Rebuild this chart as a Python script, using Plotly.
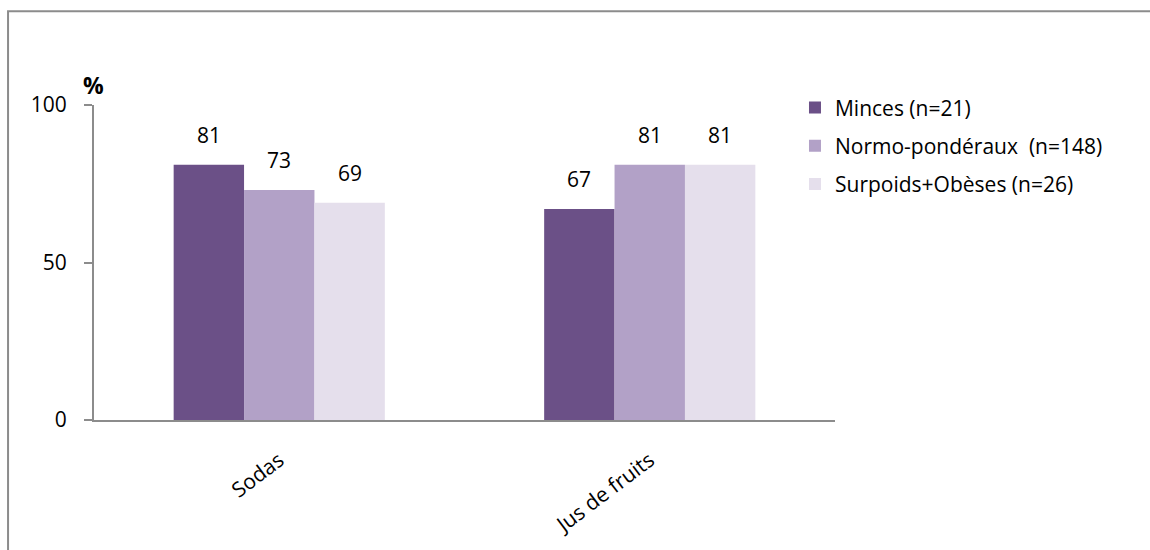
import plotly.graph_objects as go

categories = ["Sodas", "Jus de fruits"]
series_names = ["Minces (n=21)", "Normo-pondéraux  (n=148)", "Surpoids+Obèses (n=26)"]
minces = [81, 67]
normo = [73, 81]
surpoids = [69, 81]
y_ticks = [0, 50, 100]

colors = ["#6B5087", "#B2A1C7", "#E5DFEC"]
font_family = "'Open Sans', sans-serif"
label_size = 21

all_series = [minces, normo, surpoids]

fig = go.Figure()
for i, (name, vals) in enumerate(zip(series_names, all_series)):
    fig.add_trace(go.Bar(
        x=categories, y=vals, name=name,
        marker=dict(color=colors[i], line=dict(width=0)),
        legendgroup=f"g{i}",
    ))

# value labels above each bar, offset horizontally to the bar's slot in the group
bar_px = 70.5
annotations = []
for i, vals in enumerate(all_series):
    for cat, v in zip(categories, vals):
        annotations.append(dict(
            x=cat, y=v, xref="x", yref="y", text=str(v), showarrow=False,
            xshift=(i - 1) * bar_px, yshift=14, yanchor="bottom",
            font=dict(size=label_size, family=font_family, color="#000000"),
        ))

annotations.append(dict(text="<b>%</b>", xref="paper", yref="paper", x=-0.001, y=1.063,
                        xanchor="center", yanchor="middle", showarrow=False,
                        font=dict(size=23, family=font_family)))

fig.update_layout(
    width=1150, height=550,
    margin=dict(l=94, r=315, t=105, b=130),
    paper_bgcolor="white", plot_bgcolor="white",
    barmode="group", bargap=0.43, bargroupgap=0,
    font=dict(family=font_family, size=label_size, color="#000000"),
    showlegend=True,
    legend=dict(x=0.946, y=1.056, xanchor="left", yanchor="top",
                font=dict(size=label_size, family=font_family), tracegroupgap=8,
                itemwidth=30, bgcolor="rgba(0,0,0,0)"),
    xaxis=dict(showline=True, linecolor="#8C8C8C", linewidth=2, ticks="",
               tickangle=-37, tickfont=dict(size=label_size), showgrid=False,
               ticklabelstandoff=18),
    yaxis=dict(range=[0, 100], tickvals=y_ticks, showline=True, linecolor="#8C8C8C",
               linewidth=2, ticks="outside", ticklen=8, tickcolor="#8C8C8C", tickwidth=2,
               showgrid=False, zeroline=False, tickfont=dict(size=label_size),
               ticklabelstandoff=13),
    annotations=annotations,
    shapes=[dict(type="rect", xref="paper", yref="paper", x0=-0.116, x1=1.6,
                 y0=-1.0, y1=1.298, line=dict(color="#8C8C8C", width=2),
                 fillcolor="rgba(0,0,0,0)", layer="below")],
)

fig.write_html("out.html")
